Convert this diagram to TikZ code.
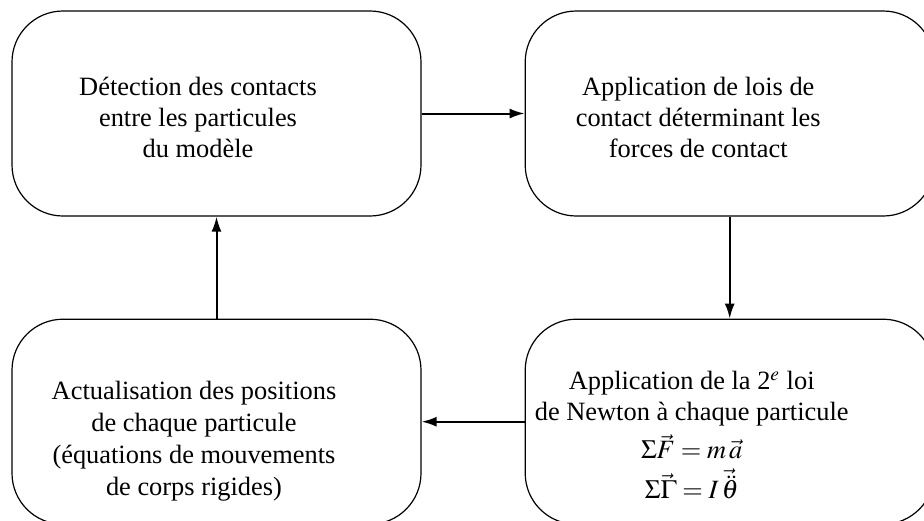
\documentclass[tikz,border=0pt]{standalone}
\usepackage{mathptmx}
\usepackage{fontspec}
\setmainfont{Liberation Serif}
\usetikzlibrary{arrows.meta, positioning}

\begin{document}
\begin{tikzpicture}[node distance=51pt,
		bloc/.style={draw, line width=0.6pt, rounded corners=25.5pt, minimum width=204.5pt, minimum height=102.5pt, inner sep=0pt},
		texte/.style={align=center, inner sep=0pt, font=\fontsize{13.2pt}{15.5pt}\selectfont},
		fleche/.style={-{Latex[length=7.5pt, width=5pt]}, line width=1pt}]
		\useasboundingbox (0,0) rectangle (462pt,-260pt);
		
		% Define nodes (steps of the loop)
		\node[bloc] (detection) at (108.25pt,-56.75pt) {};
		\node[bloc] (lois) [right=51.5pt of detection] {};
		\node[bloc] (newton) [below=of lois] {};
		\node[bloc] (actualisation) [below=of detection] {};
		
		% Texts inside the boxes
		\node[texte] (detectiontxt) at ([shift={(-9.25pt,-1.75pt)}]detection.center)
			{Détection des contacts\\entre les particules\\du modèle};
		\node[texte] (loistxt) at ([shift={(-15.75pt,-2pt)}]lois.center)
			{Application de lois de\\contact déterminant les\\forces de contact};
		\node[texte] (newtontxt) at ([shift={(-19pt,-6.75pt)}]newton.center)
			{Application de la 2$^{e}$ loi\\de Newton à chaque particule\\[3.5pt]
			$\Sigma\vec{F} = m\,\vec{a}$\\[4.5pt]$\Sigma\vec{\Gamma} = I\,\vec{\ddot{\theta}}$};
		\node[texte, font=\fontsize{13.2pt}{16pt}\selectfont] (actualisationtxt) at ([shift={(-11.25pt,-9.5pt)}]actualisation.center)
			{Actualisation des positions\\de chaque particule\\(équations de mouvements\\de corps rigides)};
		
		% Draw connections
		\draw[fleche] (detection) -- (lois);
		\draw[fleche] (lois) -- (newton);
		\draw[fleche] (newton) -- (actualisation);
		\draw[fleche] (actualisation) -- (detection);
	\end{tikzpicture}
\end{document}
